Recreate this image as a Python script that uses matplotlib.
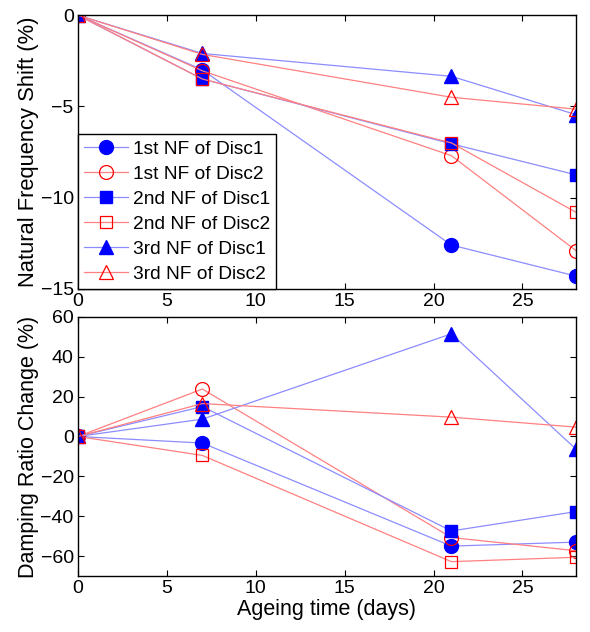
import numpy as np
import matplotlib
matplotlib.use('Agg')
import matplotlib.pyplot as plt

plt.rcParams['font.family'] = ['Liberation Sans', 'DejaVu Sans']

days = [0, 7, 21, 28]
labels = ['1st NF of Disc1', '1st NF of Disc2', '2nd NF of Disc1',
          '2nd NF of Disc2', '3rd NF of Disc1', '3rd NF of Disc2']

# natural frequency shift (%)
nf_1_d1 = [0, -3.0, -12.6, -14.3]
nf_1_d2 = [0, -3.05, -7.7, -12.9]
nf_2_d1 = [0, -3.5, -7.05, -8.75]
nf_2_d2 = [0, -3.5, -7.0, -10.8]
nf_3_d1 = [0, -2.1, -3.35, -5.45]
nf_3_d2 = [0, -2.15, -4.5, -5.15]

# damping ratio change (%)
dr_1_d1 = [0, -3.3, -55, -53]
dr_1_d2 = [0, 23.8, -50.7, -57.3]
dr_2_d1 = [0, 15, -47.4, -37.7]
dr_2_d2 = [0, -9.5, -62.8, -60.6]
dr_3_d1 = [0, 8.7, 51.5, -6.3]
dr_3_d2 = [0, 16.5, 9.7, 4.7]

nf_all = [nf_1_d1, nf_1_d2, nf_2_d1, nf_2_d2, nf_3_d1, nf_3_d2]
dr_all = [dr_1_d1, dr_1_d2, dr_2_d1, dr_2_d2, dr_3_d1, dr_3_d2]

markers = ['o', 'o', 's', 's', '^', '^']
blue_line = (0.55, 0.55, 1.0)
red_line = (1.0, 0.5, 0.5)


def style(i):
    ms = 10 if markers[i] != 's' else 9
    if i % 2 == 0:
        return dict(color=blue_line, marker=markers[i], mfc='blue',
                    mec='blue', ms=ms, lw=0.9)
    return dict(color=red_line, marker=markers[i], mfc='none',
                mec='red', mew=0.9, ms=ms, lw=0.9)


def setup(ax):
    ax.tick_params(direction='in', top=True, right=True, labelsize=14,
                   length=4, width=0.8, pad=3)
    for sp in ax.spines.values():
        sp.set_linewidth(1.0)
    ax.set_xlim(0, 28)
    ax.set_xticks([0, 5, 10, 15, 20, 25])


fig = plt.figure(figsize=(5.9, 6.32), dpi=100)
ax1 = fig.add_axes([0.132, 0.543, 0.844, 0.433])
ax2 = fig.add_axes([0.132, 0.0886, 0.844, 0.41])

for i in range(6):
    ax1.plot(days, nf_all[i], label=labels[i], **style(i))
    ax2.plot(days, dr_all[i], label=labels[i], **style(i))

setup(ax1)
ax1.set_ylim(-15, 0)
ax1.set_yticks([-15, -10, -5, 0])
ax1.set_ylabel('Natural Frequency Shift (%)', fontsize=15.8, labelpad=1)
leg = ax1.legend(loc='lower left', fontsize=13.8, fancybox=False,
                 edgecolor='black', framealpha=1, borderaxespad=0,
                 handlelength=2.3, labelspacing=0.4, borderpad=0.3,
                 handletextpad=0.3)
leg.get_frame().set_linewidth(1.0)

setup(ax2)
ax2.set_ylim(-70, 60)
ax2.set_yticks([-60, -40, -20, 0, 20, 40, 60])
ax2.set_ylabel('Damping Ratio Change (%)', fontsize=15.5, labelpad=1)
ax2.set_xlabel('Ageing time (days)', fontsize=15.5, labelpad=1)

fig.savefig('out.png', dpi=100)
